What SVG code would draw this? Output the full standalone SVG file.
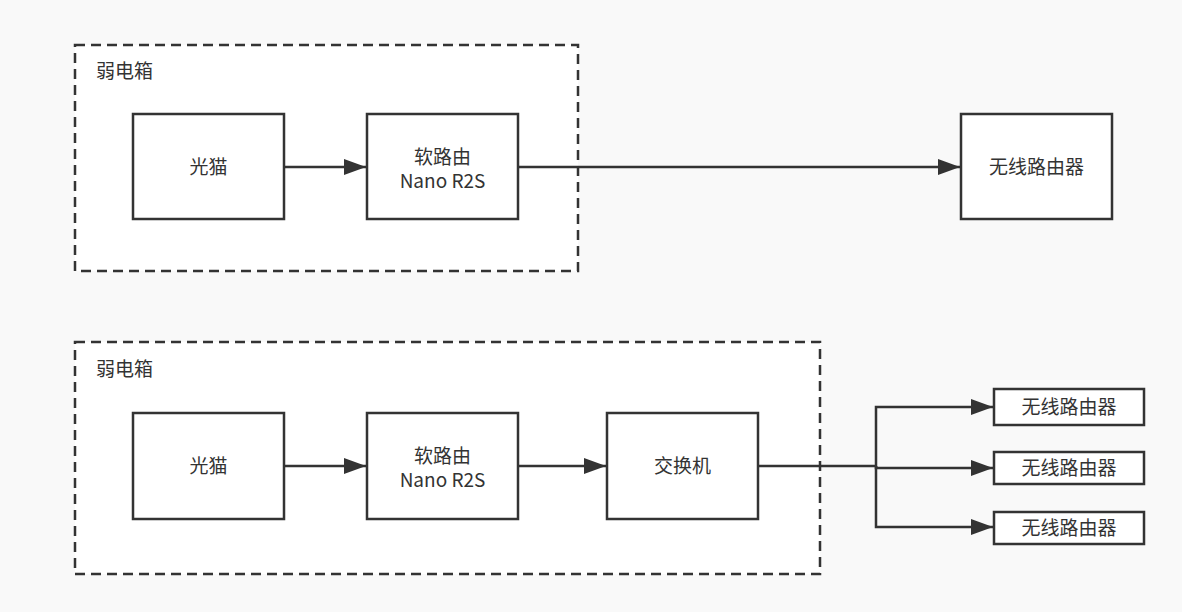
<svg xmlns="http://www.w3.org/2000/svg" width="1182" height="612" viewBox="0 0 1182 612">
<defs>
<style>
.bg{fill:#f9f9f9}
.grp{fill:#ffffff;stroke:#333333;stroke-width:2.5;stroke-dasharray:10 6}
.box{fill:#ffffff;stroke:#333333;stroke-width:2.5}
.t{font-family:"Noto Sans CJK SC","Noto Sans",sans-serif;font-size:19px;fill:#333333;text-anchor:middle}
.gl{font-family:"Noto Sans CJK SC","Noto Sans",sans-serif;font-size:19px;fill:#333333}
.c{fill:none;stroke:#333333;stroke-width:2.5}
</style>
<marker id="ah" viewBox="0 0 22 16" refX="22" refY="8" markerWidth="22" markerHeight="16" markerUnits="userSpaceOnUse" orient="auto">
<path d="M0,0 L22,8 L0,16 Z" fill="#333333"/>
</marker>
</defs>
<rect class="bg" x="0" y="0" width="1182" height="612"/>
<g id="group1">
<rect class="grp" x="75" y="45" width="503" height="226"/>
<text class="gl" x="96" y="78">弱电箱</text>
</g>
<g id="group2">
<rect class="grp" x="75" y="342" width="745" height="232"/>
<text class="gl" x="96" y="376">弱电箱</text>
</g>
<g id="connectors">
<path class="c" d="M284,167 H366" marker-end="url(#ah)"/>
<path class="c" d="M518,167 H960" marker-end="url(#ah)"/>
<path class="c" d="M284,466 H366" marker-end="url(#ah)"/>
<path class="c" d="M518,466 H606" marker-end="url(#ah)"/>
<path class="c" d="M758,466 H876 V407 H993" marker-end="url(#ah)"/>
<path class="c" d="M876,466 V468 H993" marker-end="url(#ah)"/>
<path class="c" d="M876,466 V527 H993" marker-end="url(#ah)"/>
</g>
<g id="n1"><rect class="box" x="133" y="114" width="151" height="105"/><text class="t" x="208.5" y="174">光猫</text></g>
<g id="n2"><rect class="box" x="367" y="114" width="151" height="105"/><text class="t" x="442.5" y="164">软路由</text><text class="t" x="442.5" y="188">Nano R2S</text></g>
<g id="n3"><rect class="box" x="961" y="114" width="151" height="105"/><text class="t" x="1036.5" y="174">无线路由器</text></g>
<g id="n4"><rect class="box" x="133" y="413" width="151" height="106"/><text class="t" x="208.5" y="473">光猫</text></g>
<g id="n5"><rect class="box" x="367" y="413" width="151" height="106"/><text class="t" x="442.5" y="463">软路由</text><text class="t" x="442.5" y="487">Nano R2S</text></g>
<g id="n6"><rect class="box" x="607" y="413" width="151" height="106"/><text class="t" x="682.5" y="473">交换机</text></g>
<g id="n7"><rect class="box" x="994" y="389" width="150" height="36"/><text class="t" x="1069" y="414">无线路由器</text></g>
<g id="n8"><rect class="box" x="994" y="452" width="150" height="32"/><text class="t" x="1069" y="475">无线路由器</text></g>
<g id="n9"><rect class="box" x="994" y="512" width="150" height="32"/><text class="t" x="1069" y="535">无线路由器</text></g>
</svg>
